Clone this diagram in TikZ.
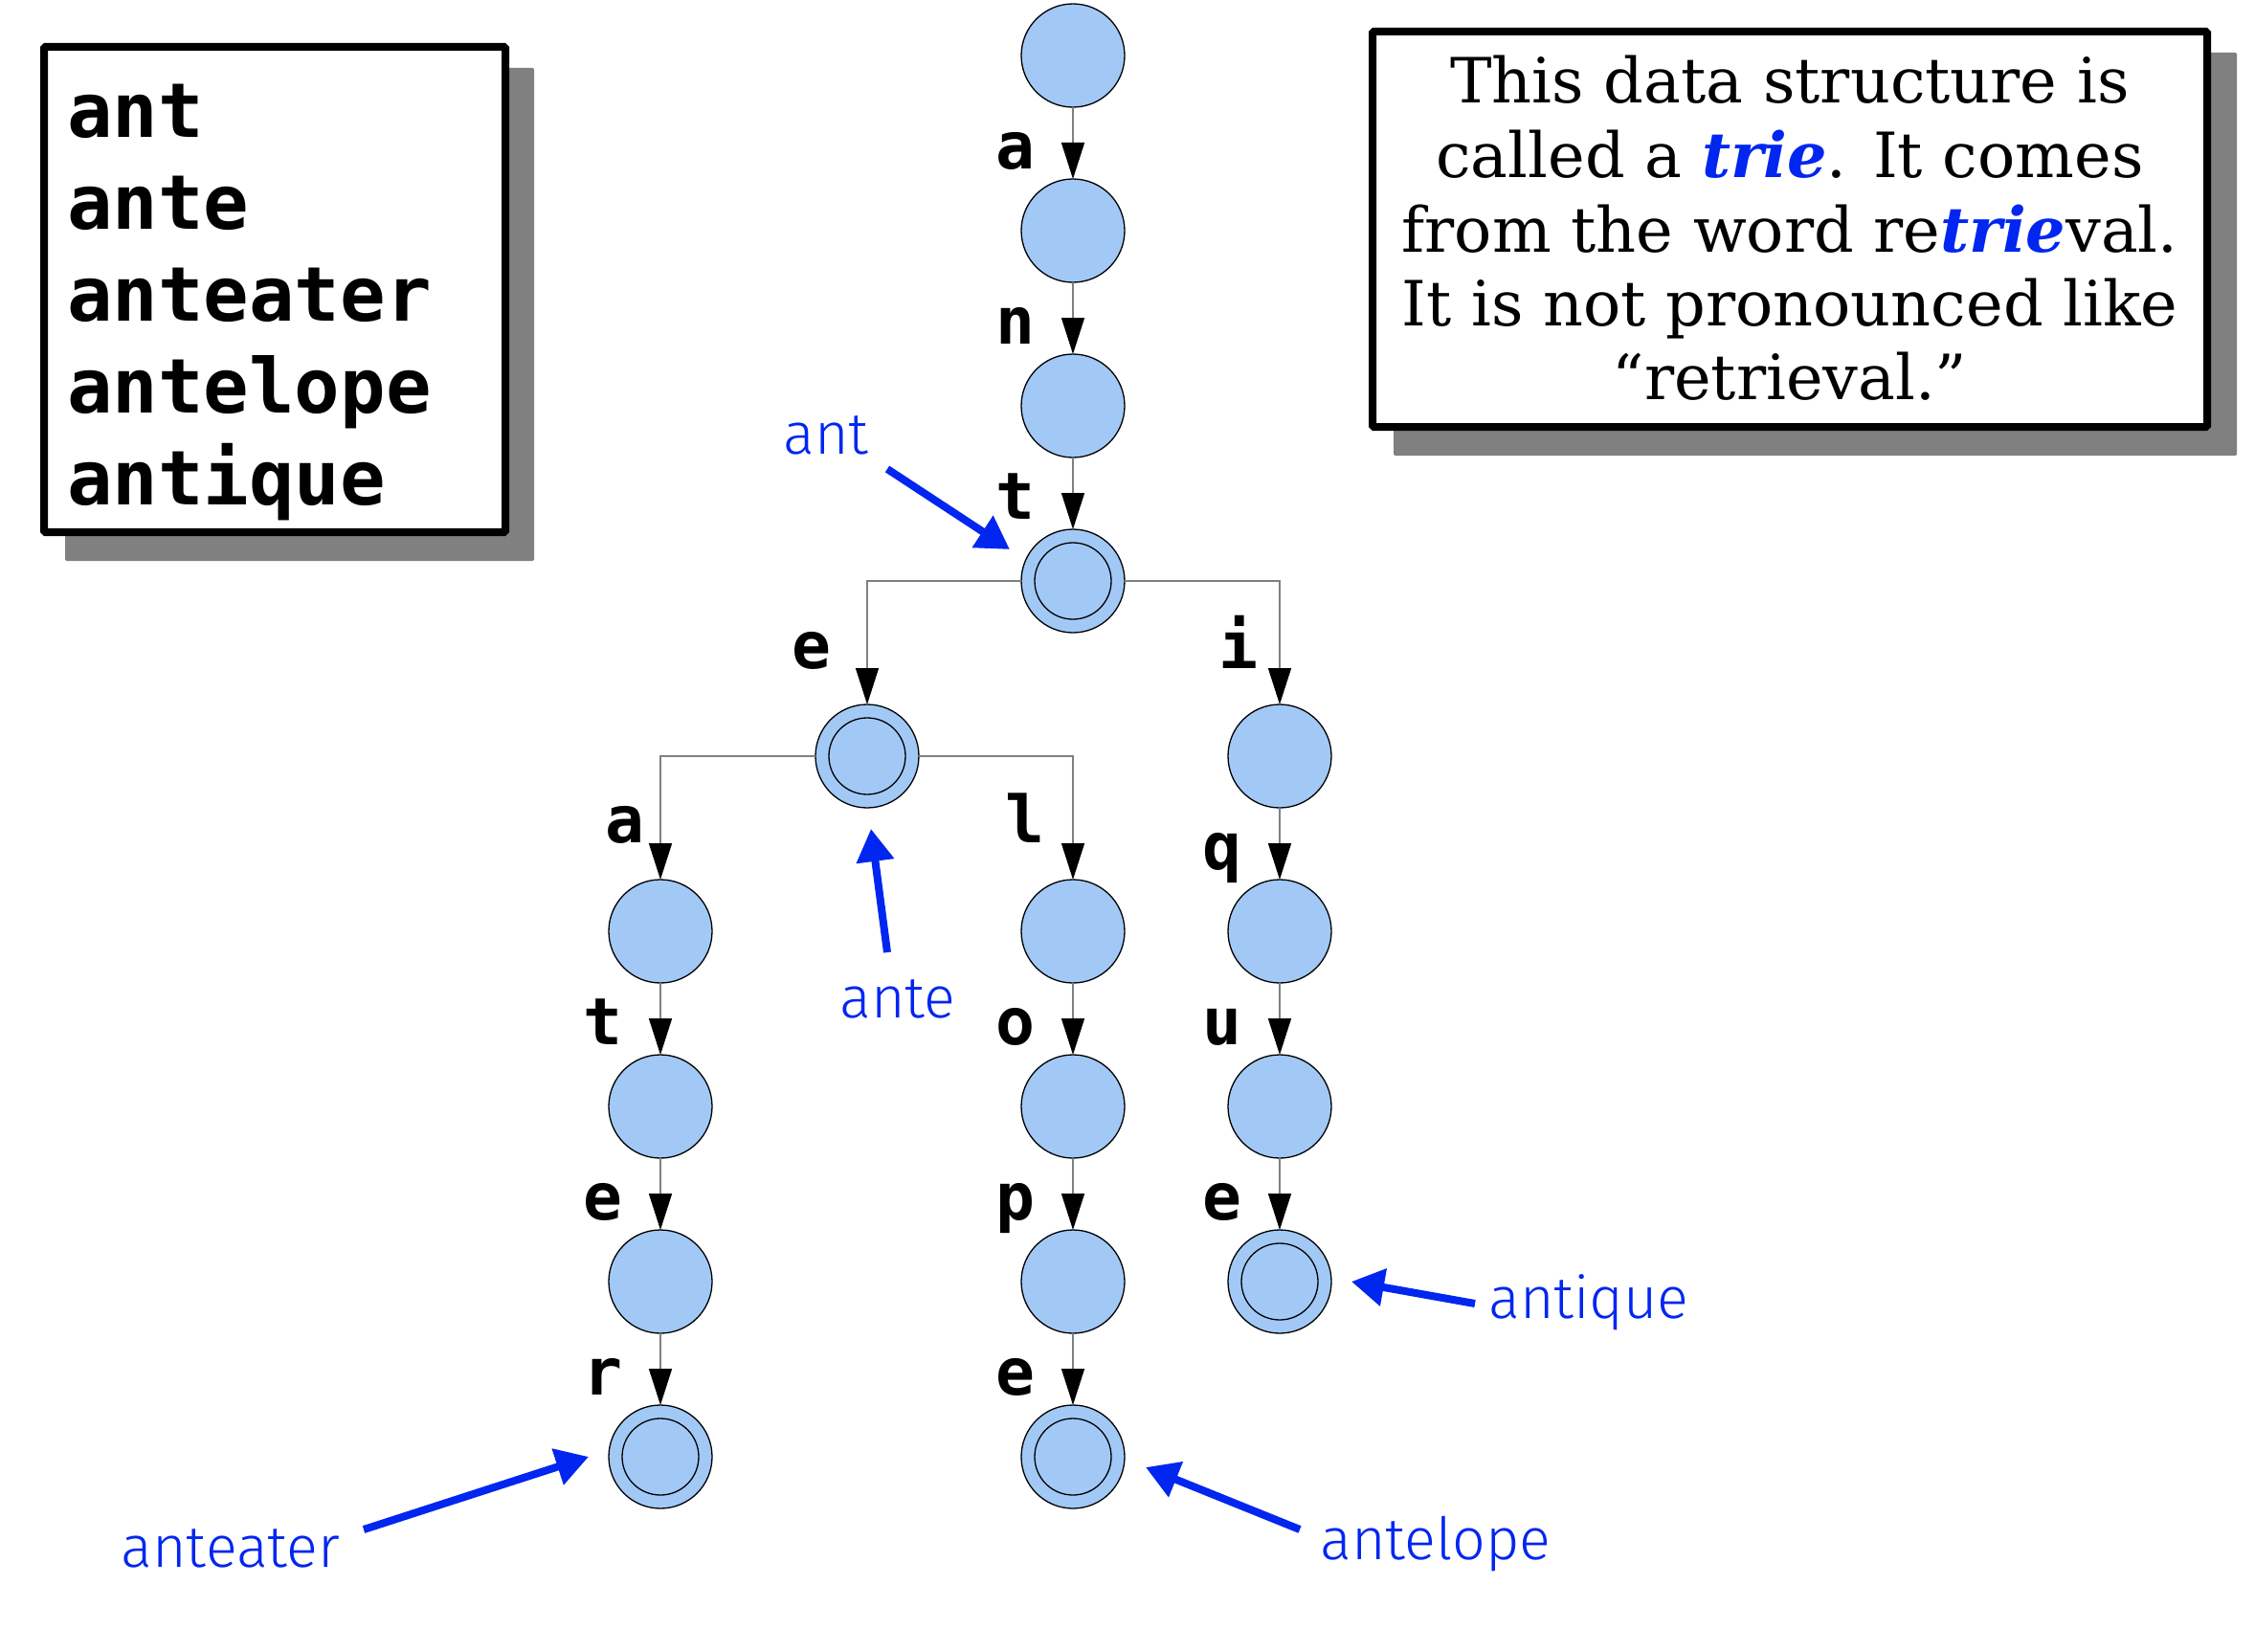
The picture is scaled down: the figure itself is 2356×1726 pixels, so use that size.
\documentclass[tikz,border=0pt]{standalone}
\usepackage{fontspec}
\usetikzlibrary{arrows.meta,calc}
\newfontfamily\monofont{DejaVu Sans Mono}
\newfontfamily\seriffont{DejaVu Serif}
\newfontfamily\handfont{Fira Sans Light}
\definecolor{nodeblue}{RGB}{162,201,246}
\definecolor{annblue}{RGB}{0,38,240}
\definecolor{edgegray}{RGB}{128,128,128}
\definecolor{shadowgray}{RGB}{128,128,128}
\begin{document}
\begin{tikzpicture}[x=1pt,y=-1pt,
  state/.style={circle,draw=black,line width=1.3pt,fill=nodeblue,minimum size=108pt,inner sep=0pt,outer sep=0pt},
  ring/.style={draw=black,line width=1.3pt},
  trans/.style={draw=edgegray,line width=1.5pt,-{Triangle[length=38pt,width=24pt,color=black]}},
  lbl/.style={anchor=base,inner sep=0pt,font=\monofont\bfseries\fontsize{68}{80}\selectfont},
  wordtxt/.style={anchor=base west,inner sep=0pt,font=\monofont\bfseries\fontsize{79}{94}\selectfont},
  notetxt/.style={anchor=base,inner sep=0pt,font=\seriffont\fontsize{65.2}{77}\selectfont},
  handtxt/.style={anchor=base,inner sep=0pt,text=annblue,font=\handfont\fontsize{61}{72}\selectfont},
  ann/.style={draw=annblue,line width=8pt,-{Triangle[length=34pt,width=38pt]}},
  boxframe/.style={draw=black,line width=8pt,fill=white,rounded corners=1.5pt},
  boxshadow/.style={fill=shadowgray,rounded corners=1.5pt}
]
\useasboundingbox[fill=white] (0,0) rectangle (2356,1726);

% word list box
\fill[boxshadow] (68,71) rectangle (558,586);
\draw[boxframe] (46,49) rectangle (528,556);
\node[wordtxt] (w1) at (70,143) {ant};
\node[wordtxt] (w2) at (70,239) {ante};
\node[wordtxt] (w3) at (70,335) {anteater};
\node[wordtxt] (w4) at (70,431) {antelope};
\node[wordtxt] (w5) at (70,527) {antique};

% note box
\fill[boxshadow] (1456,55) rectangle (2337,476);
\draw[boxframe] (1434,33) rectangle (2306,446);
\node[notetxt] (t1) at (1870,108) {This data structure is};
\node[notetxt] (t2) at (1870,185) {called a \textcolor{annblue}{\bfseries\itshape trie}. It comes};
\node[notetxt] (t3) at (1870,263) {from the word re\textcolor{annblue}{\bfseries\itshape trie}val.};
\node[notetxt] (t4) at (1870,340) {It is not pronounced like};
\node[notetxt] (t5) at (1870,417) {“retrieval.”};

% trie nodes
\node[state] (r0) at (1121,58) {};
\node[state] (r1) at (1121,241) {};
\node[state] (r2) at (1121,424) {};
\node[state] (t) at (1121,607) {};
\node[state] (e) at (906,790) {};
\node[state] (i) at (1337,790) {};
\node[state] (ea) at (690,973) {};
\node[state] (el) at (1121,973) {};
\node[state] (iq) at (1337,973) {};
\node[state] (eat) at (690,1156) {};
\node[state] (elo) at (1121,1156) {};
\node[state] (iqu) at (1337,1156) {};
\node[state] (eate) at (690,1339) {};
\node[state] (elop) at (1121,1339) {};
\node[state] (ique) at (1337,1339) {};
\node[state] (eater) at (690,1522) {};
\node[state] (elope) at (1121,1522) {};
\foreach \n in {t,e,ique,eater,elope} \draw[ring] (\n.center) circle[radius=40];

% straight transitions
\foreach \a/\b/\c in {r0/r1/a,r1/r2/n,r2/t/t,i/iq/q,ea/eat/t,el/elo/o,iq/iqu/u,eat/eate/e,elo/elop/p,iqu/ique/e,eate/eater/r,elop/elope/e}{
  \draw[trans] (\a) -- (\b);
  \node[lbl] at ($(\b)+(-60,-65)$) {\c};
}
% branching transitions
\draw[trans] (t.west) -| (e.north);
\draw[trans] (t.east) -| (i.north);
\draw[trans] (e.west) -| (ea.north);
\draw[trans] (e.east) -| (el.north);
\node[lbl] (le) at (848,698) {e};
\node[lbl] (li) at (1294,698) {i};
\node[lbl] (la) at (653,880) {a};
\node[lbl] (ll) at (1071,880) {l};

% annotations
\node[handtxt] (hant) at (863,474) {ant};
\node[handtxt] (hante) at (938,1063) {ante};
\node[handtxt] (hanteater) at (241,1637) {anteater};
\node[handtxt] (hantique) at (1660,1377) {antique};
\node[handtxt] (hantelope) at (1500,1629) {antelope};
\coordinate (s1) at (927,490); \coordinate (p1) at (1055,574);
\coordinate (s2) at (927,995); \coordinate (p2) at (910,866);
\coordinate (s3) at (380,1598); \coordinate (p3) at (615,1522);
\coordinate (s4) at (1541,1362); \coordinate (p4) at (1412,1339);
\coordinate (s5) at (1358,1598); \coordinate (p5) at (1197,1533);
\draw[ann] (s1) -- (p1);
\draw[ann] (s2) -- (p2);
\draw[ann] (s3) -- (p3);
\draw[ann] (s4) -- (p4);
\draw[ann] (s5) -- (p5);
\end{tikzpicture}
\end{document}
